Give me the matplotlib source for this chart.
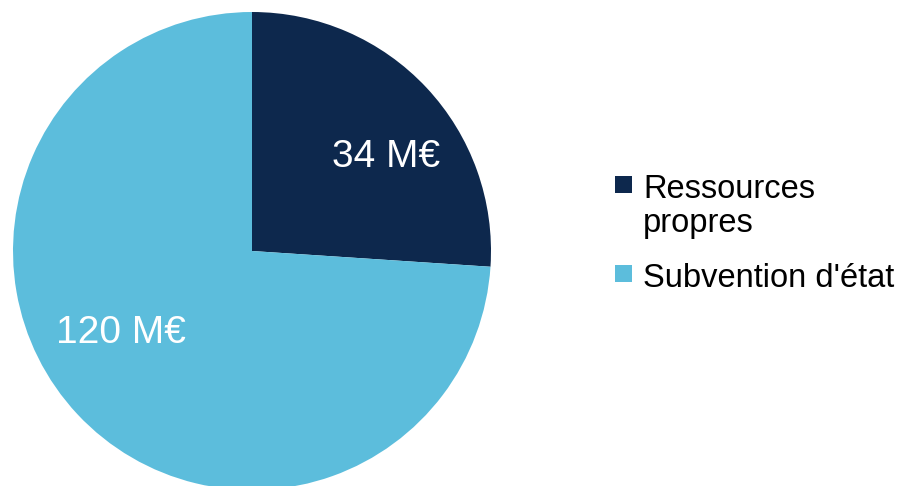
import matplotlib
matplotlib.use("Agg")
import matplotlib.pyplot as plt
from matplotlib.patches import Rectangle

categories = ["Ressources\npropres", "Subvention d'état"]
shares = [26.05, 73.95]          # slice shares as drawn in the picture
value_labels = ["34 M€", "120 M€"]
colors = ["#0D284D", "#5CBDDC"]

plt.rcParams['font.family'] = ['Liberation Sans', 'DejaVu Sans']

W, H = 908, 486
fig = plt.figure(figsize=(W / 100, H / 100), dpi=100)
cx, cy, r = 252, 251, 239
ax = fig.add_axes([(cx - r) / W, (H - cy - r) / H, 2 * r / W, 2 * r / H])
wedges, _ = ax.pie(shares, colors=colors, startangle=90, counterclock=False,
                   radius=1, wedgeprops=dict(linewidth=0))
ax.set_xlim(-1, 1)
ax.set_ylim(-1, 1)
ax.set_aspect('auto')
ax.axis('off')

label_pos = [(134 / r, 94 / r), (-131 / r, -82 / r)]
for txt, (x, y) in zip(value_labels, label_pos):
    ax.text(x, y, txt, color='white', fontsize=28, ha='center', va='center')

# legend (square aligned with first line of each label)
sq_left, sq_size = 615, 17
text_left = 643
first_baselines = [198, 287]
line_step = 34
for lab, col, base in zip(categories, colors, first_baselines):
    fig.patches.append(Rectangle((sq_left / W, 1 - (base - 5) / H), sq_size / W, sq_size / H,
                                 transform=fig.transFigure, facecolor=col,
                                 edgecolor='none', figure=fig))
    for i, line in enumerate(lab.split("\n")):
        fig.text(text_left / W, 1 - (base + i * line_step) / H, line, fontsize=23.5,
                 color='#000000', ha='left', va='baseline')

fig.savefig("out.png", dpi=100)
